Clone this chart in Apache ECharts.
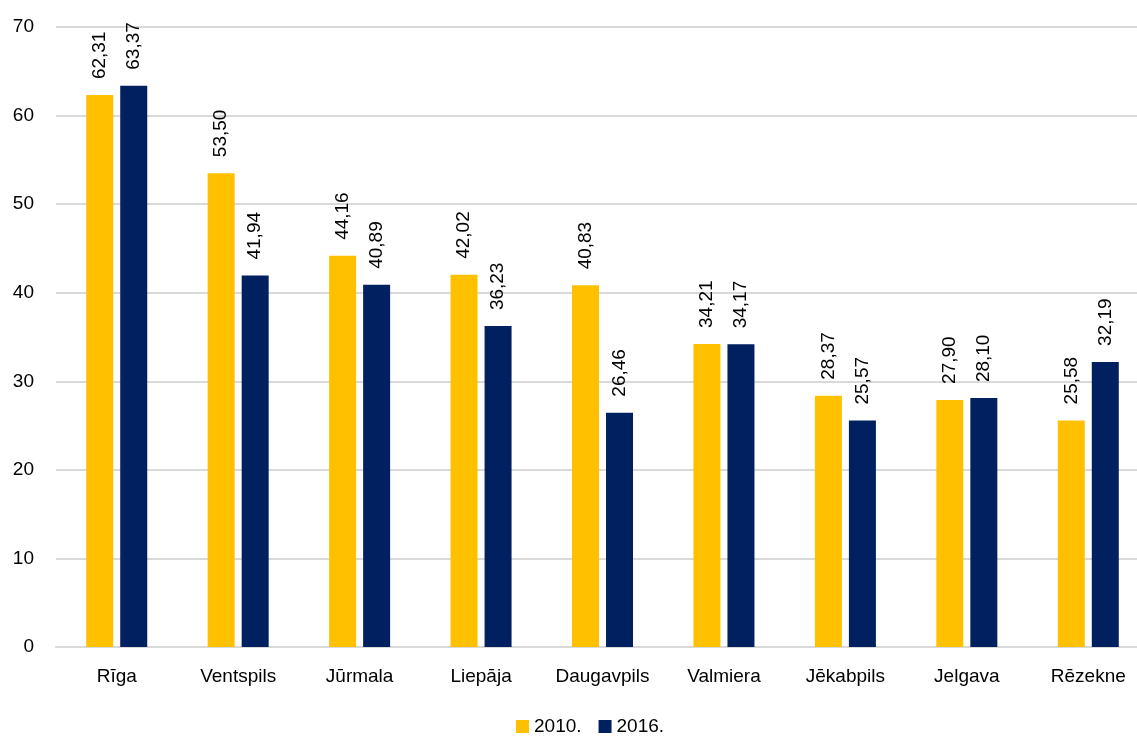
<!DOCTYPE html>
<html><head><meta charset="utf-8">
<script src="https://cdn.jsdelivr.net/npm/echarts@6/dist/echarts.min.js"></script>
<style>html,body{margin:0;padding:0;background:#fff}#c{width:1137px;height:736px}</style>
</head><body><div id="c"></div>
<script>
const categories = ['Rīga','Ventspils','Jūrmala','Liepāja','Daugavpils','Valmiera','Jēkabpils','Jelgava','Rēzekne'];
const values2010 = [62.31,53.50,44.16,42.02,40.83,34.21,28.37,27.90,25.58];
const values2016 = [63.37,41.94,40.89,36.23,26.46,34.17,25.57,28.10,32.19];
const seriesNames = ['2010.','2016.'];
const yTicks = {min:0,max:70,interval:10};

const font = 'Liberation Sans, Arial, sans-serif';
const fmt = p => p.value.toFixed(2).replace('.', ',');
const labelCfg = {show:true,position:'top',rotate:90,align:'left',verticalAlign:'middle',distance:16,
  formatter:fmt,color:'#000',fontSize:19,fontFamily:font};
const chart = echarts.init(document.getElementById('c'));
chart.setOption({
  animation:false,
  textStyle:{fontFamily:font},
  grid:{left:56,top:27,bottom:89,width:1093,containLabel:false,outerBoundsMode:'none'},
  legend:{top:712,left:511,itemWidth:13,itemHeight:13,itemGap:17,icon:'rect',
    textStyle:{fontSize:19,color:'#000',fontFamily:font},data:seriesNames},
  xAxis:{type:'category',data:categories,
    axisLine:{lineStyle:{color:'#d9d9d9',width:2}},axisTick:{show:false},
    axisLabel:{color:'#000',fontSize:19,margin:20,interval:0,hideOverlap:false,fontFamily:font}},
  yAxis:{type:'value',min:yTicks.min,max:yTicks.max,interval:yTicks.interval,
    axisLine:{show:false},axisTick:{show:false},
    splitLine:{lineStyle:{color:'#d9d9d9',width:2}},
    axisLabel:{color:'#000',fontSize:19,margin:22,fontFamily:font}},
  series:[
    {name:seriesNames[0],type:'bar',data:values2010,barWidth:27,barGap:'26%',itemStyle:{color:'#FFC000'},label:labelCfg},
    {name:seriesNames[1],type:'bar',data:values2016,barWidth:27,barGap:'26%',itemStyle:{color:'#002060'},label:labelCfg}
  ]
});
</script></body></html>
